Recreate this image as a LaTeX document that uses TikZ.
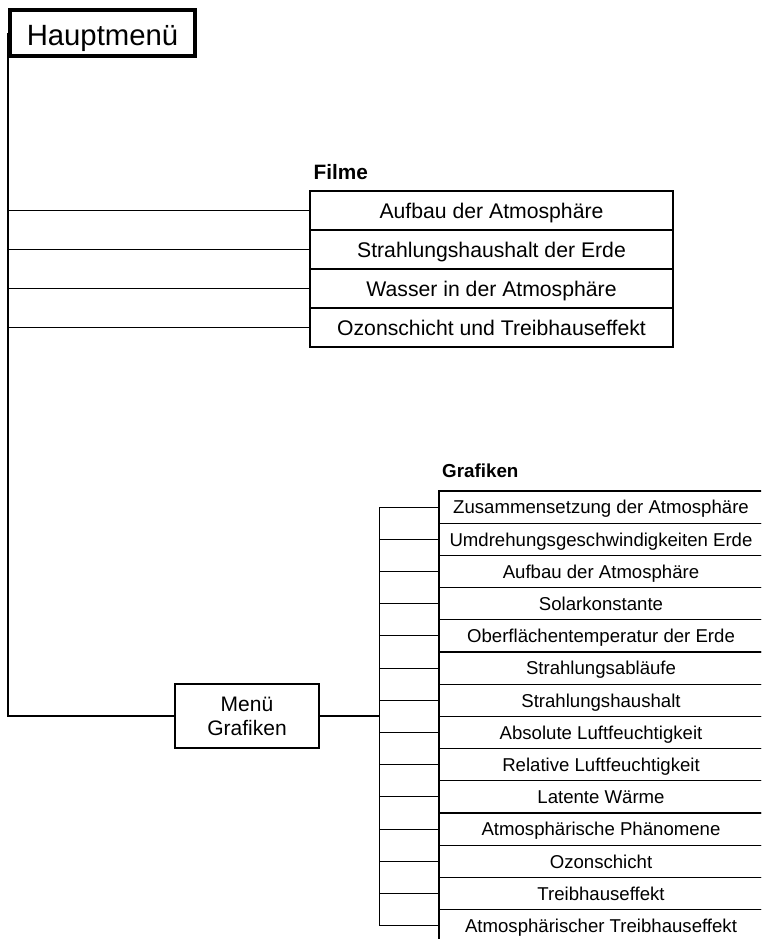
\documentclass[tikz,border=0pt]{standalone}
\usepackage{fontspec}
\setmainfont{Liberation Sans}
\usepackage{tikz}
\usetikzlibrary{positioning}

\begin{document}
\begin{tikzpicture}[
    x=1pt, y=-1pt,
    box/.style={rectangle, draw, line width=1.1pt, outer sep=0pt, align=center},
    mainbox/.style={rectangle, draw, line width=4pt, minimum width=185pt, minimum height=46pt,
        text height=24pt, text depth=0pt, font=\fontsize{29.3}{35}\selectfont},
    filmbox/.style={box, minimum width=363pt, minimum height=39pt,
        text height=15pt, text depth=0pt, font=\fontsize{21.2}{25}\selectfont},
    grafbox/.style={box, minimum width=324pt, minimum height=32.2pt,
        text height=13.4pt, text depth=0pt, font=\fontsize{18.6}{22}\selectfont},
    menubox/.style={box, minimum width=144pt, minimum height=64pt, font=\fontsize{21}{24}\selectfont},
    head/.style={inner sep=0pt, font=\bfseries\fontsize{20.8}{24}\selectfont},
    link/.style={line width=1.1pt}
]
\useasboundingbox (0,0) rectangle (761,939);
\clip (0,0) rectangle (761,939);

\node[mainbox] (haupt) at (102.5,33.2) {Hauptmenü};

% Filme
\node[filmbox] (aufbau) at (491.5,210.5) {Aufbau der Atmosphäre};
\node[filmbox, below=0pt of aufbau] (strahl) {Strahlungshaushalt der Erde};
\node[filmbox, below=0pt of strahl] (wasser) {Wasser in der Atmosphäre};
\node[filmbox, below=0pt of wasser] (ozon) {Ozonschicht und Treibhauseffekt};
\node[head, above right=11pt and 3.5pt of aufbau.north west] (filme) {Filme};

% Grafiken
\node[menubox] (menu) at (247,716) {Menü\\Grafiken};
\coordinate (fork) at (379.5,716);
\node[grafbox] (zus) at (601,507.1) {Zusammensetzung der Atmosphäre};
\node[grafbox, below=0pt of zus] (umdr) {Umdrehungsgeschwindigkeiten Erde};
\node[grafbox, below=0pt of umdr] (gaufbau) {Aufbau der Atmosphäre};
\node[grafbox, below=0pt of gaufbau] (solar) {Solarkonstante};
\node[grafbox, below=0pt of solar] (oberfl) {Oberflächentemperatur der Erde};
\node[grafbox, below=0pt of oberfl] (ablauf) {Strahlungsabläufe};
\node[grafbox, below=0pt of ablauf] (haushalt) {Strahlungshaushalt};
\node[grafbox, below=0pt of haushalt] (absol) {Absolute Luftfeuchtigkeit};
\node[grafbox, below=0pt of absol] (relat) {Relative Luftfeuchtigkeit};
\node[grafbox, below=0pt of relat] (latent) {Latente Wärme};
\node[grafbox, below=0pt of latent] (phaen) {Atmosphärische Phänomene};
\node[grafbox, below=0pt of phaen] (gozon) {Ozonschicht};
\node[grafbox, below=0pt of gozon] (treib) {Treibhauseffekt};
\node[grafbox, below=0pt of treib] (atreib) {Atmosphärischer Treibhauseffekt};
\node[head, font=\bfseries\fontsize{18.8}{22}\selectfont, above right=13pt and 3pt of zus.north west] (grafiken) {Grafiken};

\draw[link] (haupt.west) |- (menu.west);
\draw[link] (aufbau.west) -- (aufbau.west -| haupt.west);
\draw[link] (strahl.west) -- (strahl.west -| haupt.west);
\draw[link] (wasser.west) -- (wasser.west -| haupt.west);
\draw[link] (ozon.west) -- (ozon.west -| haupt.west);

\draw[link] (menu.east) -- (fork);
\draw[link] (zus.west -| fork) -- (atreib.west -| fork);
\draw[link] (zus.west) -- (zus.west -| fork);
\draw[link] (umdr.west) -- (umdr.west -| fork);
\draw[link] (gaufbau.west) -- (gaufbau.west -| fork);
\draw[link] (solar.west) -- (solar.west -| fork);
\draw[link] (oberfl.west) -- (oberfl.west -| fork);
\draw[link] (ablauf.west) -- (ablauf.west -| fork);
\draw[link] (haushalt.west) -- (haushalt.west -| fork);
\draw[link] (absol.west) -- (absol.west -| fork);
\draw[link] (relat.west) -- (relat.west -| fork);
\draw[link] (latent.west) -- (latent.west -| fork);
\draw[link] (phaen.west) -- (phaen.west -| fork);
\draw[link] (gozon.west) -- (gozon.west -| fork);
\draw[link] (treib.west) -- (treib.west -| fork);
\draw[link] (atreib.west) -- (atreib.west -| fork);
\end{tikzpicture}
\end{document}
